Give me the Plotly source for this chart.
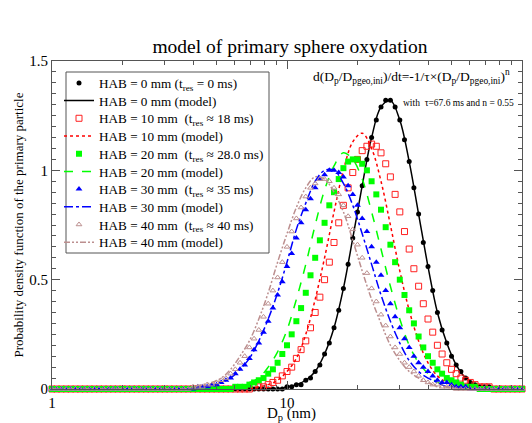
import plotly.graph_objects as go

# Particle diameter bins (nm), log-spaced
diam_nm = [1, 1.047, 1.096, 1.148, 1.202, 1.259, 1.318, 1.380, 1.445, 1.514,
           1.585, 1.660, 1.738, 1.820, 1.905, 1.995, 2.089, 2.188, 2.291, 2.399,
           2.512, 2.630, 2.754, 2.884, 3.020, 3.162, 3.311, 3.467, 3.631, 3.802,
           3.981, 4.169, 4.365, 4.571, 4.786, 5.012, 5.248, 5.495, 5.754, 6.026,
           6.310, 6.607, 6.918, 7.244, 7.586, 7.943, 8.318, 8.710, 9.120, 9.550,
           10, 10.47, 10.96, 11.48, 12.02, 12.59, 13.18, 13.80, 14.45, 15.14,
           15.85, 16.60, 17.38, 18.20, 19.05, 19.95, 20.89, 21.88, 22.91, 23.99,
           25.12, 26.30, 27.54, 28.84, 30.20, 31.62, 33.11, 34.67, 36.31, 38.02,
           39.81, 41.69, 43.65, 45.71, 47.86, 50.12, 52.48, 54.95, 57.54, 60.26,
           63.10, 66.07, 69.18, 72.44, 75.86, 79.43, 83.18, 87.10, 91.20, 95.50,
           100]

# Measured PDFs (markers)
hab0_data = [0, 0, 0, 0, 0, 0, 0, 0, 0, 0,
             0, 0, 0, 0, 0, 0, 0, 0, 0, 0,
             0, 0, 0, 0, 0, 0, 0, 0, 0, 0,
             0, 0, 0, 0, 0, 0, 0, 0, 0, 0,
             0, 0, 0, 0, 0, 0, 0, 0, 0, 0,
             0.01, 0.01, 0.02, 0.02, 0.04, 0.05, 0.08, 0.11, 0.16, 0.21,
             0.28, 0.36, 0.46, 0.57, 0.69, 0.81, 0.93, 1.05, 1.15, 1.23,
             1.29, 1.32, 1.32, 1.29, 1.23, 1.14, 1.04, 0.92, 0.80, 0.67,
             0.56, 0.45, 0.35, 0.27, 0.21, 0.15, 0.11, 0.08, 0.05, 0.03,
             0.02, 0.01, 0.01, 0.01, 0, 0, 0, 0, 0, 0,
             0]
hab10_data = [0, 0, 0, 0, 0, 0, 0, 0, 0, 0,
              0, 0, 0, 0, 0, 0, 0, 0, 0, 0,
              0, 0, 0, 0, 0, 0, 0, 0, 0, 0,
              0, 0, 0, 0, 0, 0, 0, 0, 0, 0,
              0, 0, 0, 0.01, 0.01, 0.01, 0.02, 0.03, 0.04, 0.06,
              0.08, 0.10, 0.14, 0.18, 0.22, 0.28, 0.35, 0.42, 0.50, 0.58,
              0.67, 0.76, 0.84, 0.92, 0.99, 1.05, 1.09, 1.11, 1.12, 1.11,
              1.08, 1.03, 0.97, 0.89, 0.81, 0.72, 0.64, 0.55, 0.47, 0.39,
              0.32, 0.26, 0.20, 0.16, 0.12, 0.09, 0.07, 0.05, 0.04, 0.03,
              0.02, 0.01, 0.01, 0.01, 0, 0, 0, 0, 0, 0,
              0]
hab20_data = [0, 0, 0, 0, 0, 0, 0, 0, 0, 0,
              0, 0, 0, 0, 0, 0, 0, 0, 0, 0,
              0, 0, 0, 0, 0, 0, 0, 0, 0, 0,
              0, 0, 0, 0, 0, 0, 0, 0, 0, 0.01,
              0.01, 0.01, 0.02, 0.03, 0.04, 0.05, 0.07, 0.09, 0.12, 0.16,
              0.20, 0.25, 0.31, 0.37, 0.44, 0.52, 0.60, 0.68, 0.76, 0.84,
              0.90, 0.96, 1.01, 1.04, 1.05, 1.05, 1.03, 1.00, 0.95, 0.89,
              0.82, 0.74, 0.66, 0.58, 0.50, 0.43, 0.36, 0.30, 0.24, 0.19,
              0.15, 0.12, 0.09, 0.07, 0.05, 0.04, 0.03, 0.02, 0.01, 0.01,
              0.01, 0, 0, 0, 0, 0, 0, 0, 0, 0,
              0]
hab30_data = [0, 0, 0, 0, 0, 0, 0, 0, 0, 0,
              0, 0, 0, 0, 0, 0, 0, 0, 0, 0,
              0, 0, 0, 0, 0, 0, 0, 0, 0, 0,
              0, 0.01, 0.01, 0.01, 0.02, 0.02, 0.03, 0.04, 0.05, 0.07,
              0.09, 0.11, 0.14, 0.18, 0.21, 0.26, 0.31, 0.37, 0.43, 0.49,
              0.56, 0.62, 0.69, 0.76, 0.82, 0.87, 0.92, 0.96, 0.98, 1.00,
              1.00, 0.99, 0.97, 0.93, 0.89, 0.84, 0.78, 0.72, 0.65, 0.58,
              0.52, 0.45, 0.39, 0.33, 0.28, 0.23, 0.19, 0.15, 0.12, 0.10,
              0.08, 0.06, 0.04, 0.03, 0.03, 0.02, 0.01, 0.01, 0.01, 0,
              0, 0, 0, 0, 0, 0, 0, 0, 0, 0,
              0]
hab40_data = [0, 0, 0, 0, 0, 0, 0, 0, 0, 0,
              0, 0, 0, 0, 0, 0, 0, 0, 0, 0,
              0, 0, 0, 0, 0, 0, 0, 0, 0, 0,
              0.01, 0.01, 0.01, 0.02, 0.02, 0.03, 0.04, 0.05, 0.07, 0.09,
              0.12, 0.15, 0.19, 0.23, 0.27, 0.33, 0.39, 0.45, 0.51, 0.58,
              0.65, 0.72, 0.78, 0.83, 0.88, 0.92, 0.94, 0.96, 0.96, 0.95,
              0.92, 0.89, 0.84, 0.79, 0.73, 0.66, 0.60, 0.53, 0.46, 0.40,
              0.34, 0.29, 0.24, 0.19, 0.16, 0.12, 0.10, 0.08, 0.06, 0.04,
              0.03, 0.02, 0.02, 0.01, 0.01, 0.01, 0, 0, 0, 0,
              0, 0, 0, 0, 0, 0, 0, 0, 0, 0,
              0]

# Model PDFs (lines), on every other diameter bin
model_diam_nm = diam_nm[::2]
hab0_model = [0, 0, 0, 0, 0, 0, 0, 0, 0, 0,
              0, 0, 0, 0, 0, 0, 0, 0, 0, 0,
              0, 0, 0, 0, 0, 0.01, 0.02, 0.04, 0.08, 0.16,
              0.28, 0.46, 0.69, 0.93, 1.15, 1.29, 1.32, 1.23, 1.04, 0.80,
              0.56, 0.35, 0.21, 0.11, 0.05, 0.02, 0.01, 0, 0, 0,
              0]
hab10_model = [0, 0, 0, 0, 0, 0, 0, 0, 0, 0,
               0, 0, 0, 0, 0, 0, 0, 0, 0, 0,
               0, 0, 0.01, 0.02, 0.04, 0.08, 0.14, 0.25, 0.41, 0.60,
               0.81, 1.00, 1.13, 1.17, 1.10, 0.95, 0.75, 0.54, 0.36, 0.22,
               0.12, 0.06, 0.03, 0.01, 0, 0, 0, 0, 0, 0,
               0]
hab20_model = [0, 0, 0, 0, 0, 0, 0, 0, 0, 0,
               0, 0, 0, 0, 0, 0, 0, 0, 0, 0.01,
               0.01, 0.03, 0.05, 0.10, 0.17, 0.27, 0.41, 0.57, 0.75, 0.91,
               1.02, 1.08, 1.05, 0.96, 0.81, 0.64, 0.47, 0.32, 0.20, 0.12,
               0.07, 0.03, 0.02, 0.01, 0, 0, 0, 0, 0, 0,
               0]
hab30_model = [0, 0, 0, 0, 0, 0, 0, 0, 0, 0,
               0, 0, 0, 0, 0, 0, 0.01, 0.01, 0.03, 0.05,
               0.09, 0.14, 0.22, 0.32, 0.44, 0.58, 0.73, 0.85, 0.95, 1.00,
               1.00, 0.94, 0.84, 0.71, 0.57, 0.43, 0.31, 0.21, 0.13, 0.08,
               0.05, 0.03, 0.01, 0.01, 0, 0, 0, 0, 0, 0,
               0]
hab40_model = [0, 0, 0, 0, 0, 0, 0, 0, 0, 0,
               0, 0, 0, 0, 0, 0.01, 0.02, 0.03, 0.05, 0.09,
               0.15, 0.22, 0.32, 0.44, 0.58, 0.71, 0.83, 0.92, 0.97, 0.96,
               0.90, 0.81, 0.68, 0.54, 0.41, 0.30, 0.20, 0.13, 0.08, 0.05,
               0.03, 0.01, 0.01, 0, 0, 0, 0, 0, 0, 0,
               0]

data_names = ['HAB = 0 mm (t<sub>res</sub> = 0 ms)',
              'HAB = 10 mm\u00a0 (t<sub>res</sub> \u2248 18 ms)',
              'HAB = 20 mm\u00a0 (t<sub>res</sub> \u2248 28.0 ms)',
              'HAB = 30 mm\u00a0 (t<sub>res</sub> \u2248 35 ms)',
              'HAB = 40 mm\u00a0 (t<sub>res</sub> \u2248 40 ms)']
model_names = ['HAB = 0 mm (model)', 'HAB = 10 mm (model)', 'HAB = 20 mm (model)',
               'HAB = 30 mm (model)', 'HAB = 40 mm (model)']
x_tick_vals = [1, 10, 100]
x_tick_text = ['1', '10', '100']
x_minor_vals = [2, 3, 4, 5, 6, 7, 8, 9, 20, 30, 40, 50, 60, 70, 80, 90]
y_tick_vals = [0, 0.5, 1, 1.5]
y_tick_text = ['0', '0.5', '1', '1.5']

datas = [hab0_data, hab10_data, hab20_data, hab30_data, hab40_data]
models = [hab0_model, hab10_model, hab20_model, hab30_model, hab40_model]
markers = [dict(symbol='circle', size=5, color='black'),
           dict(symbol='square-open', size=6, color='#ff2020', line=dict(width=1)),
           dict(symbol='square', size=6, color='#00ff00'),
           dict(symbol='triangle-up', size=6, color='#0000ff'),
           dict(symbol='triangle-up-open', size=5, color='#bc8f8f', line=dict(width=1))]
lines = [dict(color='black', width=1.5, dash='solid'),
         dict(color='#ff0000', width=1.5, dash='dot'),
         dict(color='#00ff00', width=1.5, dash='dash'),
         dict(color='#0000ff', width=1.5, dash='dashdot'),
         dict(color='#bc8f8f', width=1.5, dash='6px,2px,2px,2px,2px,2px')]

font = 'Liberation Serif'
L, R, T, B = 52, 522, 61, 389
W, H = 532, 423

def px(xp):
    return (xp - L) / (R - L)

def py(yp):
    return (B - yp) / (B - T)

# legend rows (one single-item legend per row, for the compact row spacing)
row_y = [83.3, 101.0, 118.7, 136.4, 154.1, 171.8, 189.5, 207.2, 224.9, 242.6]
legend_keys = ['legend'] + ['legend%d' % k for k in range(2, 11)]

fig = go.Figure()
for i in range(5):
    fig.add_trace(go.Scatter(x=diam_nm, y=datas[i], mode='markers', name=data_names[i],
                             marker=markers[i], cliponaxis=False, showlegend=True,
                             legend=legend_keys[2 * i]))
    fig.add_trace(go.Scatter(x=model_diam_nm, y=models[i], mode='lines', name=model_names[i],
                             line=dict(shape='spline', **lines[i]), showlegend=True,
                             legend=legend_keys[2 * i + 1]))

legends = {}
for k, key in enumerate(legend_keys):
    legends[key] = dict(x=px(59), y=py(row_y[k]), xanchor='left', yanchor='middle',
                        bgcolor='rgba(0,0,0,0)', borderwidth=0, font=dict(size=13.2),
                        itemwidth=30, visible=True)

fig.update_layout(
    width=W, height=H, margin=dict(l=L, r=W - R, t=T, b=H - B, autoexpand=False),
    paper_bgcolor='white', plot_bgcolor='white', showlegend=True,
    font=dict(family=font, size=15, color='black'),
    title=dict(text='model of primary sphere oxydation', x=290 / W, xanchor='center',
               y=1 - 46 / H, yanchor='middle', font=dict(size=19.5)),
    shapes=[dict(type='rect', xref='paper', yref='paper', x0=px(66), x1=px(269),
                 y0=py(253), y1=py(72), fillcolor='white', line=dict(color='#555', width=1),
                 layer='below')],
    annotations=[
        dict(text='d(D<sub>p</sub>/D<sub>pgeo,ini</sub>)/dt=-1/\u03c4\u00d7(D<sub>p</sub>/D<sub>pgeo,ini</sub>)<sup>n</sup>',
             xref='paper', yref='paper', x=px(512), y=py(76),
             xanchor='right', yanchor='middle', showarrow=False, font=dict(size=13.5)),
        dict(text='with\u00a0 \u03c4=67.6 ms and n = 0.55', xref='paper', yref='paper',
             x=px(516), y=py(103), xanchor='right', yanchor='middle',
             showarrow=False, font=dict(size=9.5)),
        dict(text='D<sub>p</sub> (nm)', xref='paper', yref='paper', x=px(291), y=py(414),
             xanchor='center', yanchor='middle', showarrow=False, font=dict(size=15)),
    ],
    **legends,
)
fig.update_xaxes(type='log', range=[0, 2], tickvals=x_tick_vals, ticktext=x_tick_text,
                 ticks='inside', ticklen=8, tickcolor='#555', showline=True, linecolor='#555',
                 linewidth=1, mirror='allticks', showgrid=False, zeroline=False,
                 minor=dict(ticks='inside', ticklen=4, tickcolor='#555',
                            tickvals=x_minor_vals, showgrid=False))
fig.update_yaxes(range=[0, 1.5], tickvals=y_tick_vals, ticktext=y_tick_text,
                 ticks='inside', ticklen=8, tickcolor='#555', showline=True, linecolor='#555',
                 linewidth=1, mirror='allticks', showgrid=False, zeroline=False,
                 minor=dict(ticks='inside', ticklen=4, tickcolor='#555', dtick=0.05, showgrid=False),
                 title=dict(text='Probability density function of the primary particle', standoff=2,
                            font=dict(size=13)))
fig.write_html('out.html', config={'displayModeBar': False},
               post_script="document.body.style.margin='0';")
